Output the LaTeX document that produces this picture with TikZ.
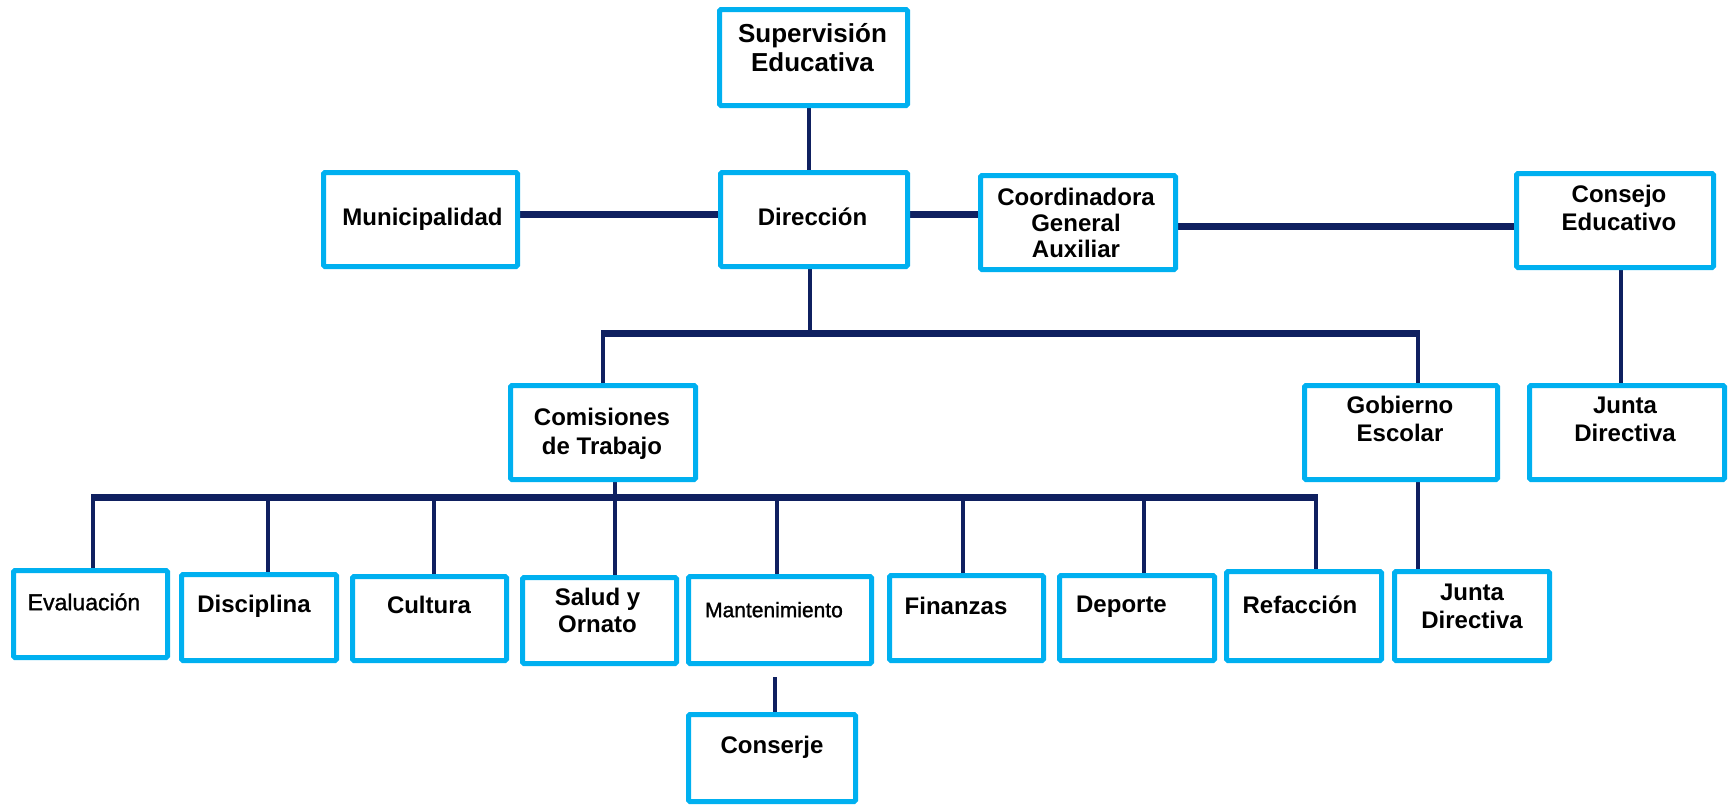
\documentclass[tikz,border=0pt]{standalone}
\usepackage{fontspec}
\setmainfont{Liberation Sans}
\newfontfamily\semibold[FakeBold=1.2]{Liberation Sans}
\usetikzlibrary{backgrounds}
\definecolor{boxc}{HTML}{00B0F0}
\definecolor{linec}{HTML}{0F2060}
\newcommand\TT{\rule{0pt}{24pt}}
\begin{document}
\begin{tikzpicture}[x=1pt,y=-1pt,
  box/.style={draw=boxc, line width=5pt, rounded corners=1.5pt, fill=white, inner sep=0pt},
  tx/.style={anchor=north, inner sep=0pt, align=center, text=black, font=\bfseries\fontsize{24}{28}\selectfont},
  txr/.style={anchor=north, inner sep=0pt, align=center, text=black, font=\semibold\fontsize{23}{28}\selectfont},
  thin/.style={draw=linec, line width=4pt},
  thick/.style={draw=linec, line width=7pt},
]
\useasboundingbox (0,0) rectangle (1730,804);
% boxes
\node[box, minimum width=188, minimum height=96] (sup) at (813.5,57.5) {};
\node[box, minimum width=194, minimum height=94] (mun) at (420.5,219.5) {};
\node[box, minimum width=187, minimum height=94] (dir) at (814,219.5) {};
\node[box, minimum width=195, minimum height=94] (coo) at (1078,222.5) {};
\node[box, minimum width=197, minimum height=94] (con) at (1615,220.5) {};
\node[box, minimum width=185, minimum height=94] (com) at (603,432.5) {};
\node[box, minimum width=193, minimum height=94] (gob) at (1401,432.5) {};
\node[box, minimum width=195, minimum height=94] (jt1) at (1627,432.5) {};
\node[box, minimum width=154, minimum height=87] (eva) at (90.5,614) {};
\node[box, minimum width=155, minimum height=86] (dis) at (259,617.5) {};
\node[box, minimum width=154, minimum height=84] (cul) at (429.5,618.5) {};
\node[box, minimum width=154, minimum height=86] (sal) at (599.5,620.5) {};
\node[box, minimum width=183, minimum height=87] (man) at (780,620) {};
\node[box, minimum width=154, minimum height=85] (fin) at (966.5,618) {};
\node[box, minimum width=155, minimum height=85] (dep) at (1137,618) {};
\node[box, minimum width=155, minimum height=89] (ref) at (1304,616) {};
\node[box, minimum width=155, minimum height=89] (jt2) at (1472,616) {};
\node[box, minimum width=167, minimum height=87] (cons) at (772,758) {};
% texts (anchor north = first baseline - 24)
\node[tx, font=\bfseries\fontsize{26}{29}\selectfont] (sup-t) at (812.5,18) {\TT Supervisión\\Educativa};
\node[tx] (mun-t) at (422.5,201) {\TT Municipalidad};
\node[tx] (dir-t) at (812.5,201) {\TT Dirección};
\node[tx, font=\bfseries\fontsize{24}{26}\selectfont] (coo-t) at (1076,181) {\TT Coordinadora\\General\\Auxiliar};
\node[tx] (con-t) at (1619,178) {\TT Consejo\\Educativo};
\node[tx, font=\bfseries\fontsize{24}{29}\selectfont] (com-t) at (602,401) {\TT Comisiones\\de Trabajo};
\node[tx] (gob-t) at (1400,389) {\TT Gobierno\\Escolar};
\node[tx] (jt1-t) at (1625,389) {\TT Junta\\Directiva};
\node[txr] (eva-t) at (84,586) {\TT Evaluación};
\node[tx] (dis-t) at (254,588) {\TT Disciplina};
\node[tx] (cul-t) at (429,589) {\TT Cultura};
\node[tx, font=\bfseries\fontsize{24}{27}\selectfont] (sal-t) at (597.5,581) {\TT Salud y\\Ornato};
\node[txr, font=\semibold\fontsize{21}{26}\selectfont] (man-t) at (774,593) {\TT Mantenimiento};
\node[tx] (fin-t) at (956,590) {\TT Finanzas};
\node[tx] (dep-t) at (1121.5,588) {\TT Deporte};
\node[tx] (ref-t) at (1300,589) {\TT Refacción};
\node[tx] (jt2-t) at (1472,576) {\TT Junta\\Directiva};
\node[tx] (cons-t) at (772,729) {\TT Conserje};
% junction coordinates
\coordinate (b1m) at (810,333);
\coordinate (b1l) at (603,333);
\coordinate (b1r) at (1418,333);
\coordinate (b2m) at (615,497);
\coordinate (d1) at (93,497);
\coordinate (d2) at (268,497);
\coordinate (d3) at (434,497);
\coordinate (d5) at (777,497);
\coordinate (d6) at (963,497);
\coordinate (d7) at (1144,497);
\coordinate (d8) at (1316,497);
\coordinate (mc) at (775,677);
\begin{scope}[on background layer]
\draw[thin] ([xshift=-4.5pt]sup.south) -- ([xshift=-4.5pt]sup.south |- dir.north);
\draw[thick] ([yshift=5.5pt]mun.east) -- ([yshift=5.5pt]mun.east -| dir.west);
\draw[thick] ([yshift=5.5pt]dir.east) -- ([yshift=5.5pt]dir.east -| coo.west);
\draw[thick] ([yshift=-3.5pt]coo.east) -- ([yshift=-3.5pt]coo.east -| con.west);
\draw[thin] (b1m |- dir.south) -- (b1m);
\draw[thick, shorten <=-2pt, shorten >=-2pt] (b1l) -- (b1r);
\draw[thin] (b1l) -- (b1l |- com.north);
\draw[thin] (b1r) -- (b1r |- gob.north);
\draw[thin] ([xshift=6pt]con.south) -- ([xshift=6pt]con.south |- jt1.north);
\draw[thin] (b1r |- gob.south) -- (b1r |- jt2.north);
\draw[thin] (b2m |- com.south) -- (b2m);
\draw[thick, shorten <=-2pt, shorten >=-2pt] (d1) -- (d8);
\draw[thin] (d1) -- ([yshift=-6pt]d1 |- eva.north);
\draw[thin] (d2) -- (d2 |- dis.north);
\draw[thin] (d3) -- (d3 |- cul.north);
\draw[thin] (b2m) -- (b2m |- sal.north);
\draw[thin] (d5) -- (d5 |- man.north);
\draw[thin] (d6) -- (d6 |- fin.north);
\draw[thin] (d7) -- (d7 |- dep.north);
\draw[thin] (d8) -- (d8 |- ref.north);
\draw[thin] (mc) -- (mc |- cons.north);
\end{scope}
\end{tikzpicture}
\end{document}
